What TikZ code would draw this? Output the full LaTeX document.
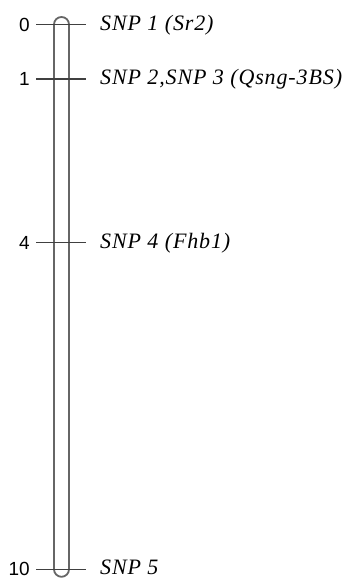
\documentclass[tikz,border=0pt]{standalone}
\usepackage{fontspec}
\setmainfont{Liberation Serif}
\newfontfamily\numfont{Liberation Sans}
\newfontfamily\snpfont[LetterSpace=4]{Liberation Serif Italic}
\begin{document}
\begin{tikzpicture}[x=1pt,y=-1pt,
  chrom/.style={draw=black!60,line width=1.8pt},
  tick/.style={draw=black!75,line width=1.3pt},
  poslabel/.style={anchor=east,inner sep=0pt,font=\numfont\fontsize{19}{19}\selectfont},
  snplabel/.style={anchor=west,inner sep=0pt,font=\snpfont\fontsize{22}{22}\selectfont}]
\useasboundingbox (0,0) rectangle (348,579);
% chromosome
\coordinate (ctop) at (61.5,24.5);
\coordinate (cbot) at (61.5,569.3);
\draw[chrom] (54,24.5) arc[start angle=180,end angle=360,radius=7.5] -- (69,569.3)
  arc[start angle=0,end angle=180,radius=7.5] -- cycle;
% ticks
\foreach \n/\y in {t0/24.5,t1/79,t4/242.5,t10/569.3}{
  \coordinate (\n l) at (36,\y);
  \coordinate (\n r) at (86,\y);
  \draw[tick] (\n l) -- (\n r);
}
\node[poslabel] (p0) at (30,24.5) {0};
\node[poslabel] (p1) at (30,79) {1};
\node[poslabel] (p4) at (30,242.5) {4};
\node[poslabel] (p10) at (30,569.3) {10};
\node[snplabel] (s1) at (100,25) {SNP 1 (Sr2)};
\node[snplabel] (s2) at (100,79.5) {SNP 2,SNP 3 (Qsng-3BS)};
\node[snplabel] (s4) at (100,243) {SNP 4 (Fhb1)};
\node[snplabel] (s5) at (100,567.5) {SNP 5};
\end{tikzpicture}
\end{document}
